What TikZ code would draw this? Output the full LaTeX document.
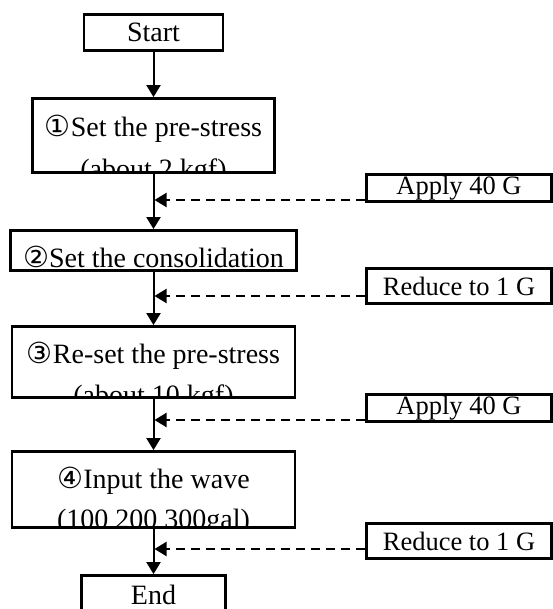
\documentclass[tikz,border=0pt]{standalone}
\usepackage{fontspec}
\setmainfont{Liberation Serif}
\newfontfamily\circfont{DejaVu Sans}
\usetikzlibrary{arrows.meta}

\newcommand{\circno}[1]{{\circfont\fontsize{29}{29}\selectfont #1}}

\tikzset{
    >={Triangle[length=12pt,width=14pt]},
    flowbox/.style={draw, line width=2.8pt, inner sep=0pt},
    gbox/.style={flowbox, minimum width=185pt, font=\fontsize{26.5}{26.5}\selectfont},
    txt/.style={anchor=base, inner sep=0pt},
    flow/.style={->, line width=2pt},
    gee/.style={->, line width=2pt, dash pattern=on 9pt off 6pt}
}

\begin{document}
\begin{tikzpicture}[x=1pt, y=-1pt, font=\fontsize{28}{28}\selectfont]
        \useasboundingbox (0,0) rectangle (552,609);

        % Main boxes
        \node[flowbox, minimum width=139pt, minimum height=36pt] (start) at (153.5,32.5) {Start};
        \node[flowbox, minimum width=242pt, minimum height=74pt] (s1) at (153.5,135.5) {};
        \node[flowbox, minimum width=286pt, minimum height=40pt] (s2) at (153.5,250.5) {};
        \node[flowbox, minimum width=283pt, minimum height=71pt] (s3) at (153.5,362) {};
        \node[flowbox, minimum width=283pt, minimum height=76pt] (s4) at (153.5,489.5) {};
        \node[flowbox, minimum width=144pt, minimum height=38pt] (end) at (153.5,594.5) {End};

        % Texts cut by the boxes
        \begin{scope}
            \clip (s1.south west) rectangle (s1.north east);
            \node[txt] (s1a) at (153.5,137) {\circno{①}Set the pre-stress};
            \node[txt] (s1b) at (153.5,179) {(about 2 kgf)};
        \end{scope}
        \begin{scope}
            \clip (s2.south west) rectangle (s2.north east);
            \node[txt] (s2a) at (153.5,267) {\circno{②}Set the consolidation};
        \end{scope}
        \begin{scope}
            \clip (s3.south west) rectangle (s3.north east);
            \node[txt] (s3a) at (153.5,363) {\circno{③}Re-set the pre-stress};
            \node[txt] (s3b) at (153.5,404) {(about 10 kgf)};
        \end{scope}
        \begin{scope}
            \clip (s4.south west) rectangle (s4.north east);
            \node[txt] (s4a) at (153.5,488) {\circno{④}Input the wave};
            \node[txt] (s4b) at (153.5,528) {(100 200 300gal)};
        \end{scope}

        % Centrifuge boxes
        \node[gbox, minimum height=27pt] (g1) at (459,188) {Apply 40 G};
        \node[gbox, minimum height=35pt] (g2) at (459,286) {Reduce to 1 G};
        \node[gbox, minimum height=27pt] (g3) at (459,408) {Apply 40 G};
        \node[gbox, minimum height=35pt] (g4) at (459,541) {Reduce to 1 G};

        \draw[flow] (start) -- (s1);
        \draw[flow] (s1) -- (s2);
        \draw[flow] (s2) -- (s3);
        \draw[flow] (s3) -- (s4);
        \draw[flow] (s4) -- (end);

        \coordinate (j1) at (154.5,200);
        \coordinate (j2) at (154.5,296);
        \coordinate (j3) at (154.5,420);
        \coordinate (j4) at (154.5,549);
        \draw[gee] (g1.west |- j1) -- (j1);
        \draw[gee] (g2.west |- j2) -- (j2);
        \draw[gee] (g3.west |- j3) -- (j3);
        \draw[gee] (g4.west |- j4) -- (j4);
    \end{tikzpicture}
\end{document}
